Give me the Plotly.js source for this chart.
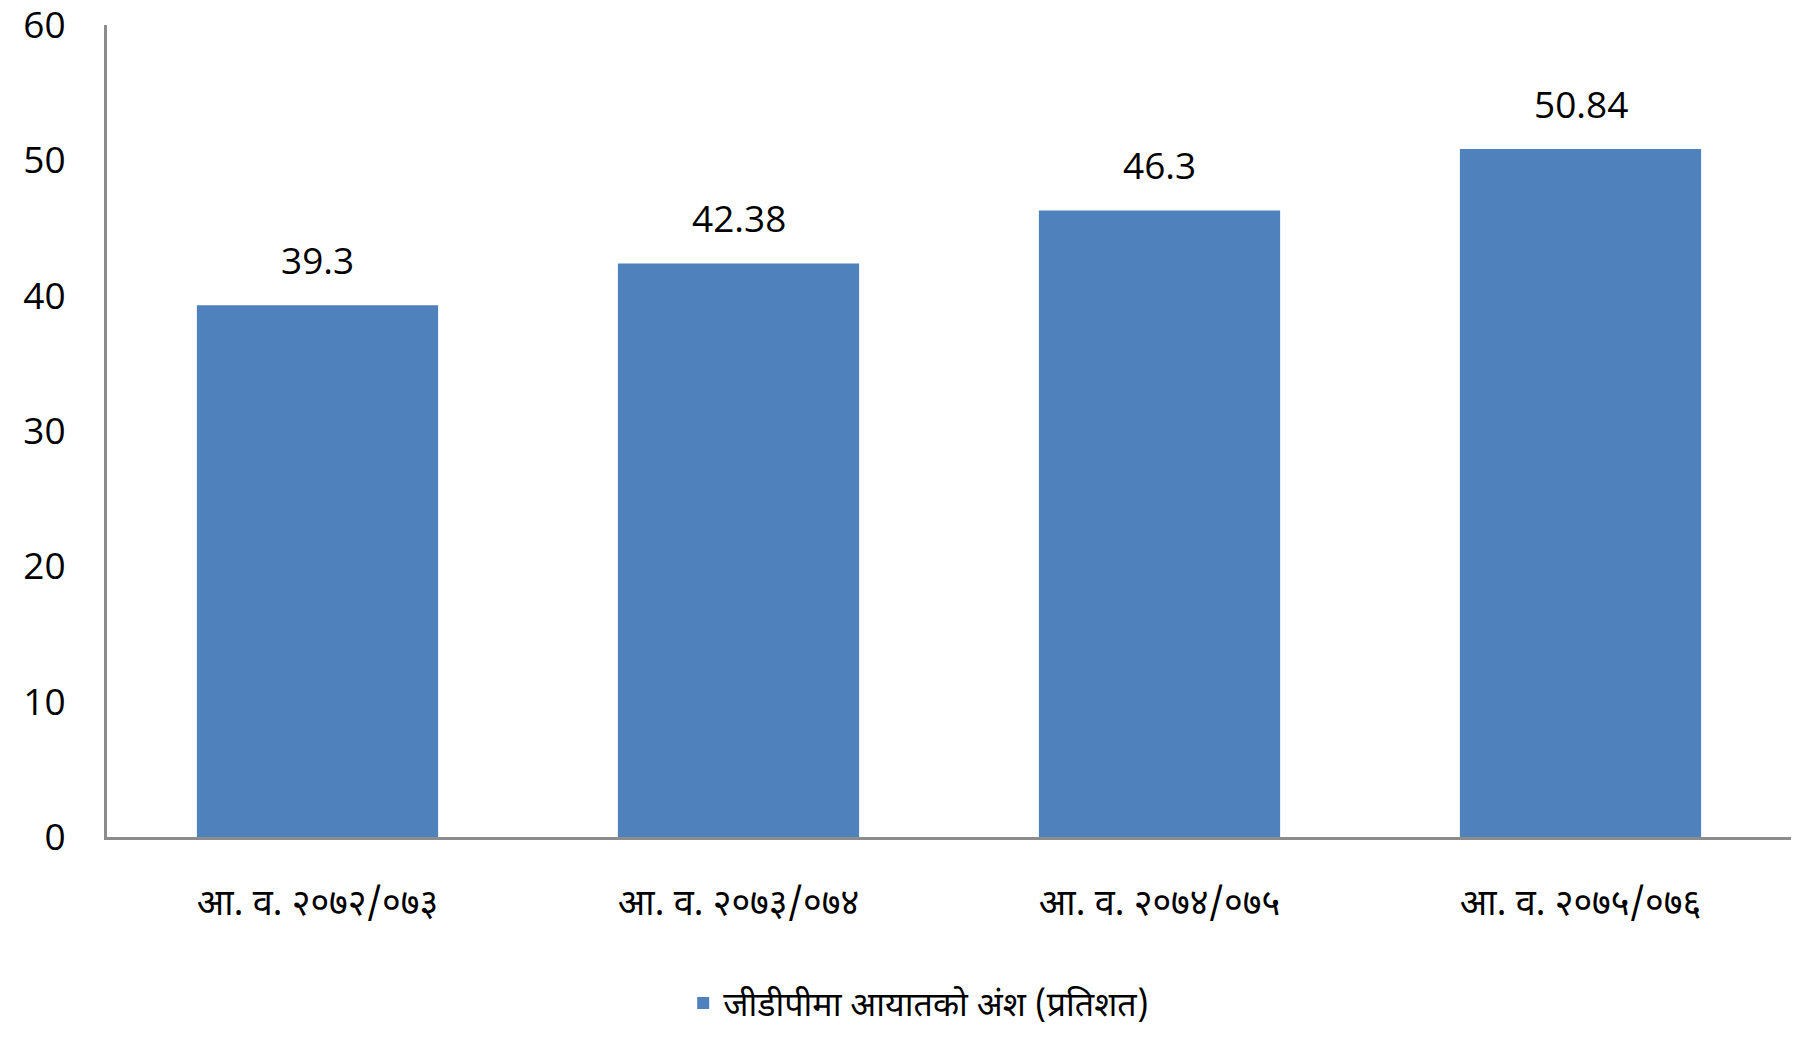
<!DOCTYPE html>
<html>
<head>
<meta charset="utf-8">
<script src="https://cdn.plot.ly/plotly-3.0.1.min.js"></script>
<style>html,body{margin:0;padding:0;background:#fff;}#chart{width:1812px;height:1045px;}</style>
</head>
<body>
<div id="chart"></div>
<script>
const categories = ["आ. व. २०७२/०७३", "आ. व. २०७३/०७४", "आ. व. २०७४/०७५", "आ. व. २०७५/०७६"];
const values = [39.3, 42.38, 46.3, 50.84];
const valueLabels = ["39.3", "42.38", "46.3", "50.84"];
const seriesName = "जीडीपीमा आयातको अंश (प्रतिशत)";
const yTicks = [0, 10, 20, 30, 40, 50, 60];

const devFont = "'Noto Sans Devanagari', 'Noto Sans', 'Lohit Devanagari', sans-serif";
const numFont = "'Open Sans', 'Noto Sans', sans-serif";

const trace = {
  type: "bar",
  x: categories,
  y: values,
  name: seriesName,
  marker: {color: "#4F81BD"},
  width: 0.573,
  showlegend: true,
  hoverinfo: "none"
};

const annotations = categories.map((c, i) => ({
  x: c, y: values[i], text: valueLabels[i],
  xref: "x", yref: "y", showarrow: false,
  yanchor: "bottom", yshift: 18,
  font: {family: numFont, size: 37, color: "#000"}
}));

const layout = {
  width: 1812, height: 1045,
  margin: {l: 107, r: 21, t: 25, b: 204},
  paper_bgcolor: "#fff", plot_bgcolor: "#fff",
  showlegend: true,
  legend: {
    orientation: "h", x: 0.482, xanchor: "center", y: -0.205, yanchor: "middle",
    font: {family: devFont, size: 34, color: "#000"}
  },
  xaxis: {
    tickvals: categories, ticktext: categories,
    showline: true, linecolor: "#8c8c8c", linewidth: 3,
    ticks: "", showgrid: false, zeroline: false,
    ticklabelstandoff: 32,
    tickfont: {family: devFont, size: 36, color: "#000"}
  },
  yaxis: {
    range: [0, 60], tickvals: yTicks, ticktext: yTicks.map(String),
    showline: true, linecolor: "#8c8c8c", linewidth: 3,
    ticks: "", showgrid: false, zeroline: false,
    ticklabelstandoff: 31, ticklabeloverflow: "allow",
    tickfont: {family: numFont, size: 37, color: "#000"}
  },
  annotations: annotations
};

Plotly.newPlot("chart", [trace], layout, {displayModeBar: false, staticPlot: true});
</script>
</body>
</html>
